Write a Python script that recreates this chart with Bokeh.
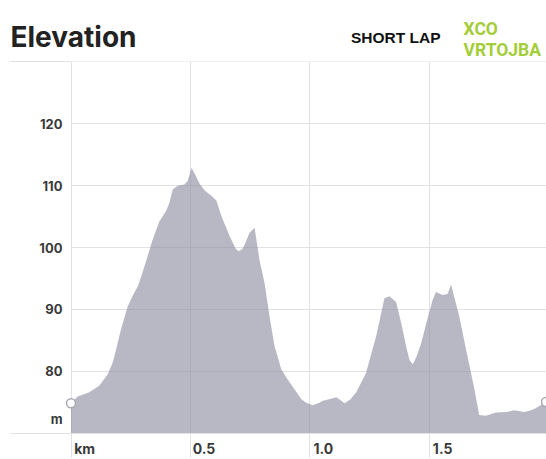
from bokeh.plotting import figure
from bokeh.models import FixedTicker, Range1d
from bokeh.core.properties import value
from bokeh.embed import file_html
from bokeh.resources import INLINE

# ---------------- data ----------------
DIST_KM = [0.000, 0.028, 0.077, 0.119, 0.154, 0.175, 0.192, 0.209, 0.237, 0.260,
           0.281, 0.300, 0.321, 0.340, 0.370, 0.398, 0.412, 0.426, 0.447, 0.475,
           0.489, 0.505, 0.520, 0.539, 0.560, 0.590, 0.609, 0.630, 0.664, 0.690,
           0.702, 0.717, 0.727, 0.748, 0.769, 0.790, 0.811, 0.832, 0.853, 0.881,
           0.905, 0.923, 0.945, 0.964, 0.985, 1.013, 1.040, 1.055, 1.085, 1.111,
           1.130, 1.146, 1.170, 1.195, 1.236, 1.278, 1.300, 1.313, 1.334, 1.362,
           1.385, 1.404, 1.418, 1.432, 1.447, 1.467, 1.490, 1.515, 1.529, 1.557,
           1.578, 1.592, 1.627, 1.655, 1.690, 1.710, 1.738, 1.780, 1.829, 1.857,
           1.880, 1.899, 1.920, 1.941, 1.976, 1.990]
ELEV_M = [74.8, 75.9, 76.6, 77.7, 79.5, 81.4, 84.0, 86.7, 90.4, 92.3,
          93.8, 96.0, 98.6, 101.0, 104.2, 105.9, 107.2, 109.4, 110.0, 110.2,
          110.8, 112.9, 111.8, 110.3, 109.2, 108.3, 107.6, 105.1, 101.9, 99.8,
          99.4, 99.7, 100.4, 102.4, 103.2, 97.9, 94.2, 88.8, 84.0, 80.3,
          78.8, 77.8, 76.6, 75.5, 74.9, 74.5, 74.9, 75.2, 75.5, 75.8,
          75.3, 74.8, 75.4, 76.6, 79.7, 85.6, 89.5, 91.8, 92.1, 91.2,
          87.5, 84.0, 81.8, 81.1, 82.3, 84.5, 88.0, 91.5, 92.8, 92.3,
          92.5, 94.0, 88.8, 83.5, 77.1, 72.9, 72.8, 73.3, 73.4, 73.7,
          73.5, 73.4, 73.6, 73.9, 74.7, 75.0]

X_TICKS = [0.0, 0.5, 1.0, 1.5]
X_TICK_LABELS = ["km", "0.5", "1.0", "1.5"]
Y_TICKS = [80, 90, 100, 110, 120]
Y_TICK_LABELS = ["80", "90", "100", "110", "120"]
Y_UNIT_AT = 72.25
Y_UNIT_LABEL = "m"
Y_MIN, Y_MAX = 70.0, 130.0

TITLE = "Elevation"
SUBTITLE = "SHORT LAP"
BRAND_LINES = ["XCO", "VRTOJBA"]

# ---------------- styling ----------------
W, H = 546, 459
LEFT, TOP, BOTTOM = 70, 61, 24
GRID = "#e1e1e6"
TXT = "#3a3a3a"
PX_PER_KM = 238.7
FRAME_W = W - LEFT
FRAME_H = H - TOP - BOTTOM
PX_PER_M = FRAME_H / (Y_MAX - Y_MIN)
X_VIEW = (-0.5 / PX_PER_KM, FRAME_W / PX_PER_KM - 0.5 / PX_PER_KM)
Y_VIEW = (Y_MIN - 0.5 / PX_PER_M, Y_MAX + 0.5 / PX_PER_M)

p = figure(width=W, height=H, title=None,
           x_range=Range1d(*X_VIEW), y_range=Range1d(*Y_VIEW),
           output_backend="svg", toolbar_location=None,
           min_border_left=LEFT, min_border_right=0, min_border_top=TOP, min_border_bottom=BOTTOM,
           outline_line_color=None, background_fill_color="white", border_fill_color="white")

# grid
p.xgrid.ticker = FixedTicker(ticks=X_TICKS)
p.ygrid.ticker = FixedTicker(ticks=[Y_MIN] + Y_TICKS + [Y_MAX])
p.grid.grid_line_color = GRID
p.grid.grid_line_width = 1

# profile
p.varea(x=DIST_KM, y1=Y_VIEW[0], y2=ELEV_M, fill_color="#89899e", fill_alpha=0.6)
r = p.scatter([DIST_KM[0], DIST_KM[-1]], [ELEV_M[0], ELEV_M[-1]], marker="circle", size=9,
              fill_color="white", line_color="#a8a8b2", line_width=1.5)
r.level = "overlay"

# x axis: label positions sit just right of each gridline; minor ticks extend the gridlines
xlab_pos = [round(t + 0.057, 4) for t in X_TICKS]
xa = p.xaxis[0]
xa.ticker = FixedTicker(ticks=xlab_pos, minor_ticks=X_TICKS)
xa.major_label_overrides = {pos: lab for pos, lab in zip(xlab_pos, X_TICK_LABELS)}
xa.axis_line_color = None
xa.major_tick_line_color = None
xa.major_tick_out = BOTTOM
xa.major_tick_in = 0
xa.minor_tick_out = BOTTOM
xa.minor_tick_in = 0
xa.minor_tick_line_color = GRID
xa.major_label_standoff = 6 - BOTTOM
xa.major_label_text_font = "Inter"
xa.major_label_text_font_style = "bold"
xa.major_label_text_font_size = "14px"
xa.major_label_text_color = TXT

# y axis: labels right aligned; minor ticks extend the top and bottom rules to the left
ya = p.yaxis[0]
ya.ticker = FixedTicker(ticks=[Y_UNIT_AT] + Y_TICKS, minor_ticks=[Y_MIN, Y_MAX])
ov = {Y_UNIT_AT: Y_UNIT_LABEL}
ov.update({t: l for t, l in zip(Y_TICKS, Y_TICK_LABELS)})
ya.major_label_overrides = ov
ya.axis_line_color = None
ya.major_tick_line_color = None
ya.major_tick_out = 60
ya.major_tick_in = 0
ya.minor_tick_out = 60
ya.minor_tick_in = 0
ya.minor_tick_line_color = GRID
ya.major_label_standoff = -52
ya.major_label_text_font = "Inter"
ya.major_label_text_font_style = "bold"
ya.major_label_text_font_size = "13px"
ya.major_label_text_color = TXT

# header texts: text glyphs on the overlay level (not clipped to the frame)
def km(px):
    return (px - LEFT) / PX_PER_KM + X_VIEW[0]

def m(py):
    return Y_VIEW[0] + ((H - BOTTOM) - py) / PX_PER_M

def header(px, py, text, font, size, color):
    g = p.text(x=[km(px)], y=[m(py)], text=[text], text_font=value(font),
               text_font_style="bold", text_font_size=size, text_color=color,
               text_align="left", text_baseline="alphabetic")
    g.level = "overlay"

header(10, 35, TITLE, "Inter", "28px", "#222222")
header(350.5, 36, SUBTITLE, "Liberation Sans", "15.5px", "#111111")
for line, base in zip(BRAND_LINES, [27, 48.3]):
    header(463, base, line, "Roboto", "17.5px", "#a3cd39")

open("out.html", "w").write(file_html(p, INLINE))
